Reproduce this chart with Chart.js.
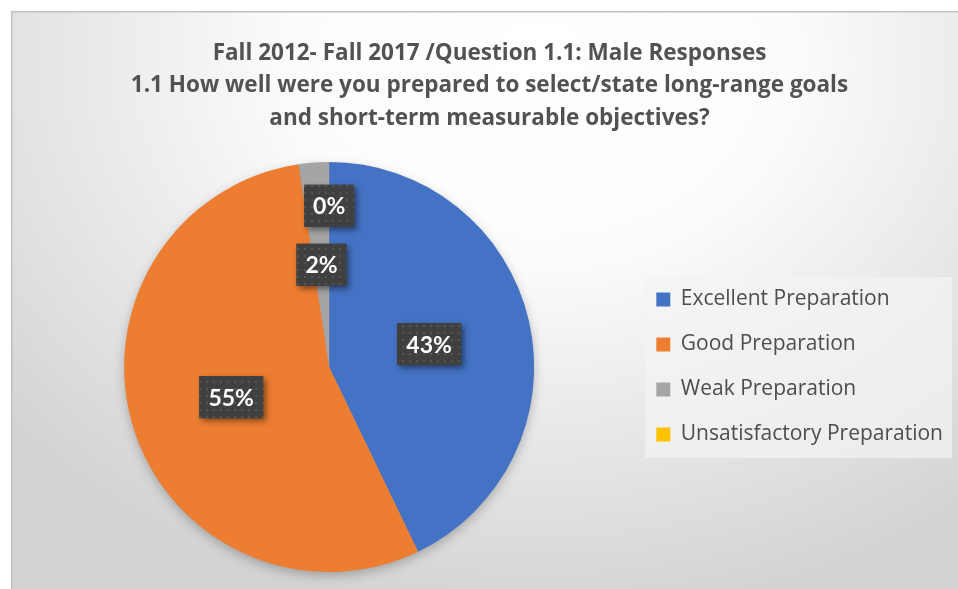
<!DOCTYPE html>
<html>
<head>
<meta charset="utf-8">
<script src="https://cdn.jsdelivr.net/npm/chart.js@4.4.1/dist/chart.umd.min.js"></script>
<style>
  html, body { margin: 0; padding: 0; background: #fff; overflow: hidden; }
  #wrap { width: 990px; height: 600px; }
</style>
</head>
<body>
<div id="wrap"><canvas id="responses" width="990" height="600"></canvas></div>
<script>
const titleLines = [
  "Fall 2012- Fall 2017 /Question 1.1: Male Responses",
  "1.1 How well were you prepared to select/state long-range goals",
  "and short-term measurable objectives?"
];
const categories = [
  "Excellent Preparation",
  "Good Preparation",
  "Weak Preparation",
  "Unsatisfactory Preparation"
];
const responseCounts = [18, 23, 1, 0];
const sliceColors = ["#4472C4", "#ED7D31", "#A5A5A5", "#FFC000"];

const TEXT_FONT = "'Open Sans', sans-serif";
const TAG_FONT = "Lato, sans-serif";

// soft grey fill behind the whole chart, thin frame, and the legend panel
const chartBackground = {
  id: "chartBackground",
  beforeDraw(chart) {
    const { ctx, width, height } = chart;
    ctx.save();
    ctx.fillStyle = "#fff";
    ctx.fillRect(0, 0, width, height);
    ctx.beginPath();
    ctx.rect(12, 12, width - 12, height - 12);
    ctx.clip();
    ctx.translate(540, 60);
    ctx.scale(1, 0.8);
    const g = ctx.createRadialGradient(0, 0, 0, 0, 0, 700);
    g.addColorStop(0, "#ffffff");
    g.addColorStop(0.35, "#fcfcfc");
    g.addColorStop(1, "#d3d3d3");
    ctx.fillStyle = g;
    ctx.fillRect(-700, -200, 1400, 1000);
    ctx.restore();

    ctx.save();
    ctx.strokeStyle = "#c2c2c2";
    ctx.lineWidth = 1.5;
    ctx.strokeRect(11.75, 11.75, width, height);

    const hb = chart.legend && chart.legend.legendHitBoxes;
    if (hb && hb.length) {
      const left = hb[0].left - 11;
      const top = hb[0].top - 12;
      const right = Math.max(...hb.map(b => b.left + b.width)) + 9;
      const last = hb[hb.length - 1];
      const bottom = last.top + last.height + 13;
      ctx.fillStyle = "rgba(243,243,243,0.7)";
      ctx.fillRect(left, top, right - left, bottom - top);
    }
    ctx.restore();
  }
};

// drop shadow under the pie
const pieShadow = {
  id: "pieShadow",
  beforeDatasetsDraw(chart) {
    const arc = chart.getDatasetMeta(0).data[0];
    if (!arc) return;
    const { ctx } = chart;
    ctx.save();
    ctx.shadowColor = "rgba(0,0,0,0.28)";
    ctx.shadowBlur = 12;
    ctx.shadowOffsetY = 4;
    ctx.fillStyle = "#9a9a9a";
    ctx.beginPath();
    ctx.arc(arc.x, arc.y, arc.outerRadius - 1, 0, Math.PI * 2);
    ctx.fill();
    ctx.restore();
  }
};

function dotPattern(ctx) {
  const tile = document.createElement("canvas");
  tile.width = tile.height = 7;
  const t = tile.getContext("2d");
  t.fillStyle = "#404040";
  t.fillRect(0, 0, 7, 7);
  t.fillStyle = "#555555";
  t.fillRect(3, 3, 2, 2);
  return ctx.createPattern(tile, "repeat");
}

// dark percentage tags on each slice
const percentLabels = {
  id: "percentLabels",
  afterDatasetsDraw(chart) {
    const { ctx } = chart;
    const meta = chart.getDatasetMeta(0);
    const total = responseCounts.reduce((a, b) => a + b, 0);
    const pattern = dotPattern(ctx);
    const placed = [];
    ctx.save();
    ctx.font = "bold 23px " + TAG_FONT;
    ctx.textAlign = "center";
    ctx.textBaseline = "middle";
    meta.data.forEach((arc, i) => {
      const text = Math.round(responseCounts[i] / total * 100) + "%";
      const p = arc.getCenterPoint();
      const w = Math.round(ctx.measureText(text).width + 18);
      const h = 42;
      const box = { x: p.x - w / 2, y: p.y - h / 2, w, h };
      // tags that would sit on top of each other get pushed upward
      for (const o of placed) {
        if (box.x < o.x + o.w && box.x + box.w > o.x && box.y < o.y + o.h && box.y + box.h > o.y) {
          box.y = o.y - h - 17;
        }
      }
      placed.push(box);

      ctx.shadowColor = "rgba(0,0,0,0.45)";
      ctx.shadowBlur = 6;
      ctx.shadowOffsetX = 3;
      ctx.shadowOffsetY = 3;
      ctx.fillStyle = "#404040";
      ctx.fillRect(box.x, box.y, box.w, box.h);
      ctx.shadowColor = "transparent";
      ctx.fillStyle = pattern;
      ctx.fillRect(box.x, box.y, box.w, box.h);
      ctx.fillStyle = "#ffffff";
      ctx.fillText(text, box.x + box.w / 2, box.y + box.h / 2 + 1);
    });
    ctx.restore();
  }
};

new Chart(document.getElementById("responses"), {
  type: "pie",
  data: {
    labels: categories,
    datasets: [{
      data: responseCounts,
      backgroundColor: sliceColors,
      borderWidth: 0,
      hoverOffset: 0
    }]
  },
  options: {
    responsive: false,
    animation: false,
    devicePixelRatio: 1,
    layout: { padding: { left: 26, right: 37, top: 12, bottom: 28 } },
    plugins: {
      title: {
        display: true,
        text: titleLines,
        color: "#525252",
        font: { family: TEXT_FONT, size: 22.5, weight: "bold", lineHeight: 1.444 },
        padding: { top: 25, bottom: 27.5 }
      },
      legend: {
        position: "right",
        fullSize: false,
        align: "center",
        labels: {
          boxWidth: 14,
          boxHeight: 14,
          padding: 24,
          color: "#4d4d4d",
          font: { family: TEXT_FONT, size: 21 }
        }
      },
      tooltip: { enabled: false }
    }
  },
  plugins: [chartBackground, pieShadow, percentLabels]
});
</script>
</body>
</html>
